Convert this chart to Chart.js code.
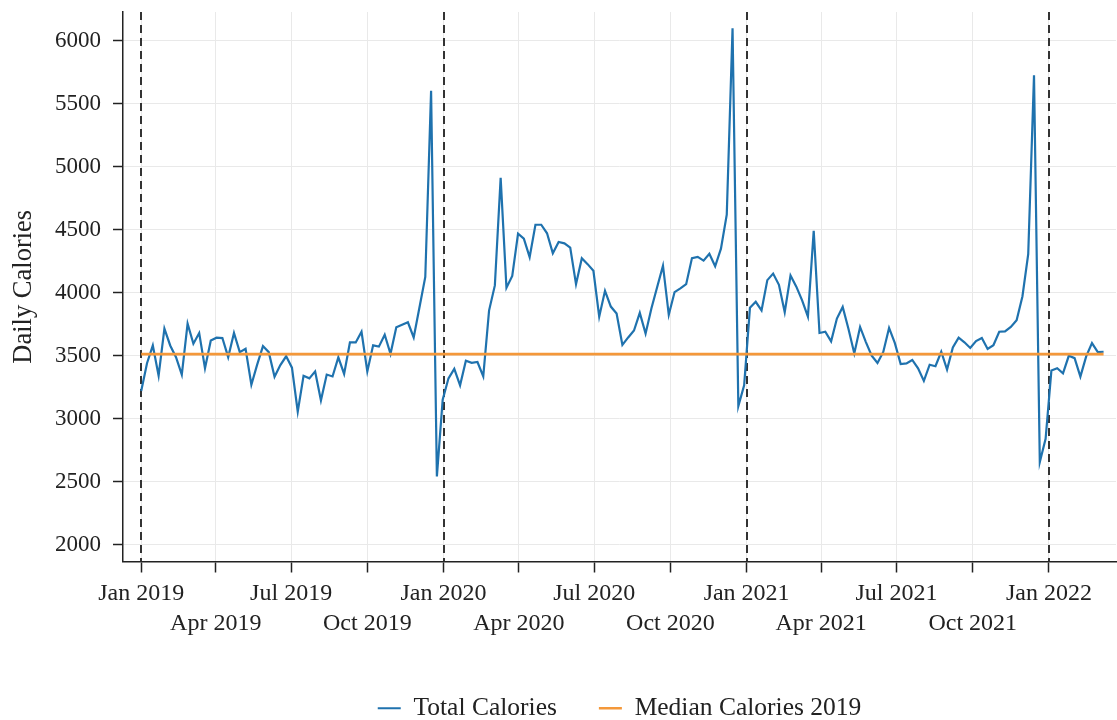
<!DOCTYPE html>
<html>
<head>
<meta charset="utf-8">
<script src="https://cdn.jsdelivr.net/npm/chart.js@4/dist/chart.umd.min.js"></script>
<style>
  html, body { margin: 0; padding: 0; background: #fff; }
  #wrap { width: 1117px; height: 720px; position: relative; }
</style>
</head>
<body>
<div id="wrap"><canvas id="calChart"></canvas></div>
<script>
// weekly values, one per week starting Jan 1 2019
const cal2019 = [3220, 3440, 3581, 3341, 3715, 3581, 3488, 3349, 3755, 3595, 3680, 3400, 3621, 3643, 3640, 3488,
  3680, 3528, 3555, 3269, 3429, 3576, 3528, 3333, 3425, 3495, 3405, 3055, 3340, 3320, 3375, 3145,
  3350, 3335, 3487, 3355, 3605, 3605, 3690, 3375, 3582, 3572, 3667, 3515, 3725, 3745, 3765, 3645,
  3885, 4125, 5605, 2540];
const cal2020 = [3150, 3320, 3395, 3265, 3460, 3443, 3450, 3336, 3858, 4058, 4912, 4040, 4134, 4470, 4430, 4283,
  4540, 4540, 4472, 4313, 4403, 4392, 4358, 4068, 4274, 4227, 4174, 3810, 4015, 3890, 3835, 3585,
  3645, 3700, 3840, 3675, 3875, 4045, 4215, 3825, 4005, 4035, 4068, 4275, 4285, 4255, 4310, 4210,
  4350, 4620, 6100, 3100];
const cal2021 = [3265, 3880, 3928, 3860, 4100, 4152, 4063, 3845, 4137, 4048, 3940, 3810, 4492, 3680, 3690, 3614,
  3795, 3887, 3712, 3518, 3728, 3608, 3500, 3442, 3530, 3720, 3600, 3434, 3439, 3466, 3400, 3300,
  3428, 3416, 3531, 3390, 3566, 3643, 3606, 3561, 3616, 3640, 3553, 3583, 3690, 3693, 3728, 3781,
  3970, 4306, 5728, 2655];
const cal2022 = [2840, 3382, 3400, 3360, 3499, 3480, 3334, 3494, 3600, 3529, 3531];
const median2019 = 3512;

// x axis: days since Jan 1 2019
const quarterDays = [0, 90, 181, 273, 365, 456, 547, 639, 731, 821, 912, 1004, 1096];
const quarterLabels = ['Jan 2019', 'Apr 2019', 'Jul 2019', 'Oct 2019', 'Jan 2020', 'Apr 2020', 'Jul 2020',
  'Oct 2020', 'Jan 2021', 'Apr 2021', 'Jul 2021', 'Oct 2021', 'Jan 2022'];
const yearDays = [0, 365, 731, 1096];
const yTicks = [2000, 2500, 3000, 3500, 4000, 4500, 5000, 5500, 6000];

const calories = cal2019.concat(cal2020, cal2021, cal2022);
const totalPoints = calories.map((v, i) => ({ x: i * 7, y: v }));
const medianPoints = calories.map((v, i) => ({ x: i * 7, y: median2019 }));

const FONT = "'Liberation Serif', 'Times New Roman', serif";

const yearLinePlugin = {
  id: 'yearLines',
  beforeDatasetsDraw(chart) {
    const { ctx, chartArea, scales: { x } } = chart;
    ctx.save();
    ctx.strokeStyle = '#333';
    ctx.lineWidth = 2;
    ctx.setLineDash([8, 5]);
    yearDays.forEach(d => {
      const px = Math.round(x.getPixelForValue(d));
      ctx.beginPath();
      ctx.moveTo(px, chartArea.top);
      ctx.lineTo(px, chartArea.bottom);
      ctx.stroke();
    });
    ctx.restore();
  }
};

new Chart(document.getElementById('calChart'), {
  type: 'line',
  data: {
    datasets: [{
      label: 'Total Calories',
      data: totalPoints,
      borderColor: '#1f72ae',
      backgroundColor: '#1f72ae',
      borderWidth: 2.2,
      pointRadius: 0,
      tension: 0,
      order: 2
    }, {
      label: 'Median Calories 2019',
      data: medianPoints,
      borderColor: '#f4983a',
      backgroundColor: '#f4983a',
      borderWidth: 2.6,
      pointRadius: 0,
      order: 1
    }]
  },
  options: {
    responsive: true,
    maintainAspectRatio: false,
    animation: false,
    layout: { padding: { top: 12, right: 1, left: 0, bottom: -11 } },
    plugins: {
      tooltip: { enabled: false },
      legend: {
        position: 'bottom',
        fullSize: false,
        labels: {
          usePointStyle: true,
          pointStyle: 'line',
          pointStyleWidth: 23,
          boxHeight: 20,
          padding: 42,
          color: '#222',
          font: { family: FONT, size: 25.5 },
          sort: (a, b) => a.datasetIndex - b.datasetIndex
        }
      }
    },
    scales: {
      x: {
        type: 'linear',
        min: -22,
        max: 1177,
        afterBuildTicks: (scale) => { scale.ticks = quarterDays.map(v => ({ value: v })); },
        afterFit: (scale) => { scale.height = 92; },
        ticks: {
          autoSkip: false,
          maxRotation: 0,
          padding: 6,
          color: '#222',
          font: { family: FONT, size: 24, lineHeight: 1.25 },
          callback: (v) => {
            const i = quarterDays.indexOf(v);
            if (i < 0) return '';
            return i % 2 === 0 ? quarterLabels[i] : ['', quarterLabels[i]];
          }
        },
        grid: { color: '#e9e9e9', lineWidth: 1, tickLength: 11, tickColor: '#222', tickWidth: 1.5 },
        border: { display: true, color: '#222', width: 1.5 }
      },
      y: {
        min: 1865,
        max: 6230,
        afterBuildTicks: (scale) => { scale.ticks = yTicks.map(v => ({ value: v })); },
        afterFit: (scale) => {
          scale.width = 123;
          scale.paddingTop = 0;
          scale.paddingBottom = 0;
        },
        ticks: {
          padding: 12,
          color: '#222',
          font: { family: FONT, size: 23 },
          callback: (v) => String(v)
        },
        title: {
          display: true,
          text: 'Daily Calories',
          color: '#222',
          font: { family: FONT, size: 26.5 },
          padding: { top: 8, bottom: 0 }
        },
        grid: { color: '#e9e9e9', lineWidth: 1, tickLength: 10, tickColor: '#222', tickWidth: 1.5 },
        border: { display: true, color: '#222', width: 1.5 }
      }
    }
  },
  plugins: [yearLinePlugin]
});
</script>
</body>
</html>
